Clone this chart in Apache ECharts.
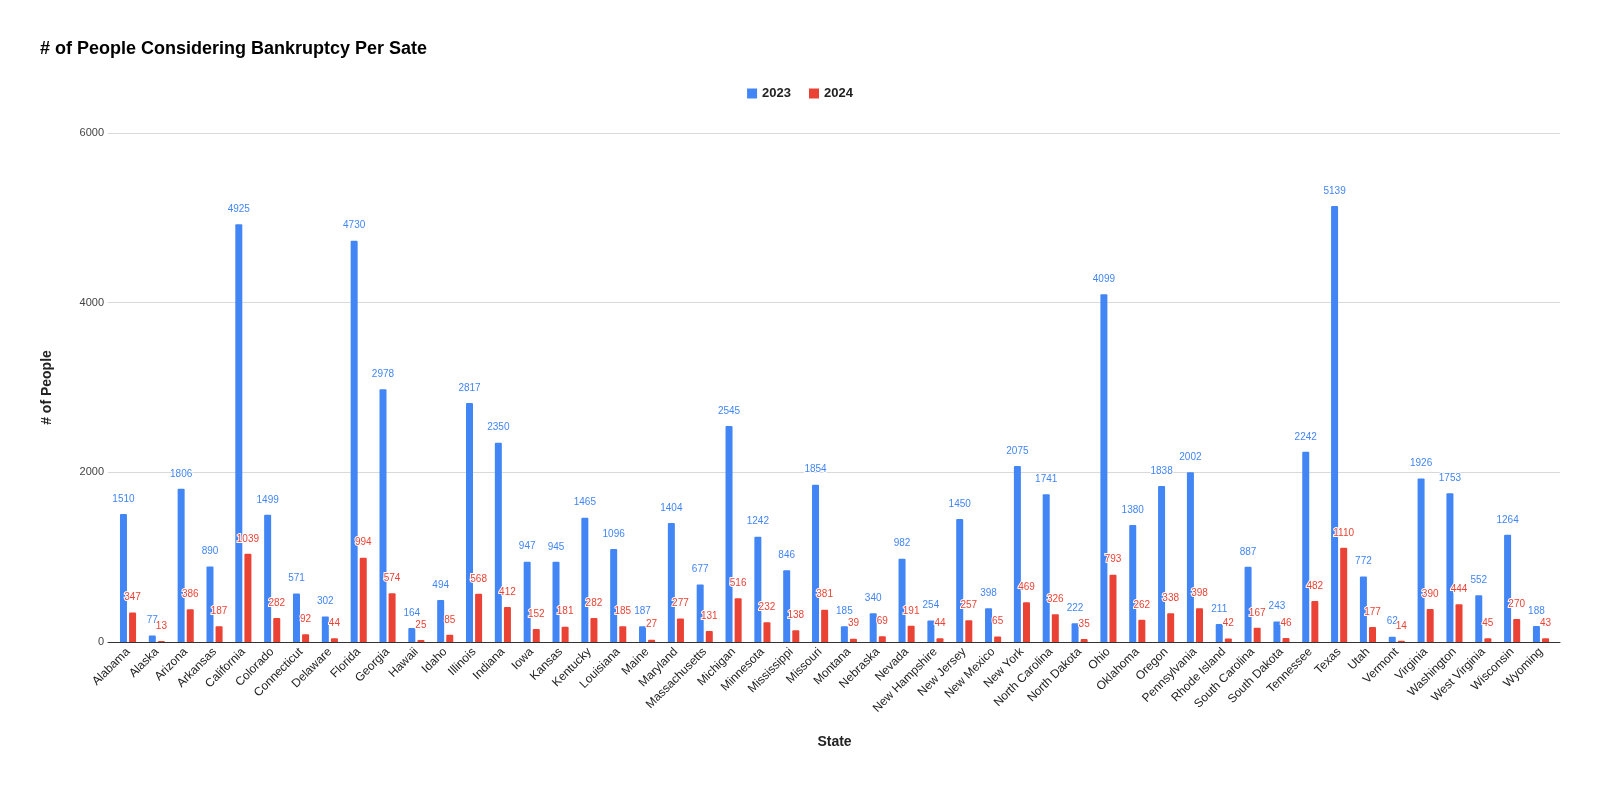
<!DOCTYPE html>
<html>
<head>
<meta charset="utf-8">
<script src="https://cdn.jsdelivr.net/npm/echarts@6/dist/echarts.min.js"></script>
<style>
  html, body { margin: 0; padding: 0; background: #fff; }
  #chart { width: 1600px; height: 788px; }
</style>
</head>
<body>
<div id="chart"></div>
<script>
var states = ["Alabama", "Alaska", "Arizona", "Arkansas", "California", "Colorado", "Connecticut", "Delaware",
    "Florida", "Georgia", "Hawaii", "Idaho", "Illinois", "Indiana", "Iowa", "Kansas", "Kentucky", "Louisiana",
    "Maine", "Maryland", "Massachusetts", "Michigan", "Minnesota", "Mississippi", "Missouri", "Montana",
    "Nebraska", "Nevada", "New Hampshire", "New Jersey", "New Mexico", "New York", "North Carolina",
    "North Dakota", "Ohio", "Oklahoma", "Oregon", "Pennsylvania", "Rhode Island", "South Carolina",
    "South Dakota", "Tennessee", "Texas", "Utah", "Vermont", "Virginia", "Washington", "West Virginia",
    "Wisconsin", "Wyoming"];

var people2023 = [1510, 77, 1806, 890, 4925, 1499, 571, 302, 4730, 2978, 164, 494, 2817, 2350, 947, 945, 1465,
    1096, 187, 1404, 677, 2545, 1242, 846, 1854, 185, 340, 982, 254, 1450, 398, 2075, 1741, 222, 4099, 1380,
    1838, 2002, 211, 887, 243, 2242, 5139, 772, 62, 1926, 1753, 552, 1264, 188];

var people2024 = [347, 13, 386, 187, 1039, 282, 92, 44, 994, 574, 25, 85, 568, 412, 152, 181, 282, 185, 27, 277,
    131, 516, 232, 138, 381, 39, 69, 191, 44, 257, 65, 469, 326, 35, 793, 262, 338, 398, 42, 167, 46, 482, 1110,
    177, 14, 390, 444, 45, 270, 43];

var yTicks = [0, 2000, 4000, 6000];

var chart = echarts.init(document.getElementById("chart"));
var font = "'Liberation Sans', Arial, sans-serif";

function barSeries(name, data, color) {
    return {
        name: name,
        type: "bar",
        xAxisIndex: 1,
        yAxisIndex: 1,
        data: data,
        barWidth: 7,
        barGap: "30%",
        itemStyle: { color: color, borderRadius: [1, 1, 0, 0] },
        label: {
            show: true,
            position: "top",
            distance: 10,
            color: color,
            fontFamily: font,
            fontSize: 10,
            textBorderColor: "#fff",
            textBorderWidth: 2
        }
    };
}

// grid 0 carries the gridlines and axis line across the full width,
// grid 1 is a bit narrower, the way Sheets pads the bars in from the edges
chart.setOption({
    animation: false,
    backgroundColor: "#fff",
    textStyle: { fontFamily: font },
    title: {
        text: "# of People Considering Bankruptcy Per Sate",
        left: 35,
        top: 35,
        textStyle: { fontSize: 18, fontWeight: "bold", color: "#000", fontFamily: font }
    },
    legend: {
        top: 82,
        left: "center",
        itemWidth: 10,
        itemHeight: 10,
        itemGap: 18,
        icon: "rect",
        textStyle: { fontSize: 13, fontWeight: "bold", color: "#222", fontFamily: font }
    },
    grid: [
        { left: 108, right: 40, top: 133, bottom: 146 },
        { left: 113.6, right: 44.6, top: 133, bottom: 146 }
    ],
    xAxis: [{
        type: "category",
        gridIndex: 0,
        data: states,
        axisTick: { show: false },
        axisLabel: { show: false },
        axisLine: { lineStyle: { color: "#333", width: 1 } }
    }, {
        type: "category",
        gridIndex: 1,
        data: states,
        name: "State",
        nameLocation: "middle",
        nameGap: 93,
        nameTextStyle: { fontSize: 14, fontWeight: "bold", color: "#222" },
        axisTick: { show: false },
        axisLine: { show: false },
        axisLabel: { rotate: 45, interval: 0, fontSize: 12, color: "#222", margin: 8 }
    }],
    yAxis: [{
        type: "value",
        gridIndex: 0,
        min: yTicks[0],
        max: yTicks[yTicks.length - 1],
        interval: 2000,
        name: "# of People",
        nameLocation: "middle",
        nameGap: 54,
        nameTextStyle: { fontSize: 14, fontWeight: "bold", color: "#222" },
        axisLine: { show: false },
        axisTick: { show: false },
        axisLabel: { fontSize: 11, color: "#444", margin: 4, formatter: function (v) { return String(v); } },
        splitLine: { lineStyle: { color: "#d9d9d9" } }
    }, {
        type: "value",
        gridIndex: 1,
        min: yTicks[0],
        max: yTicks[yTicks.length - 1],
        interval: 2000,
        show: false
    }],
    series: [
        barSeries("2023", people2023, "#4285f4"),
        barSeries("2024", people2024, "#ea4335")
    ]
});
</script>
</body>
</html>
